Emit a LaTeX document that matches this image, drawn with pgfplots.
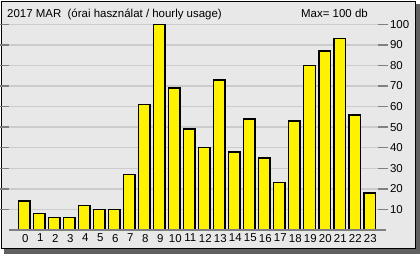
\documentclass[border=0pt]{standalone}
\usepackage{pgfplots}
\pgfplotsset{compat=1.18}
\usepackage{fontspec}
\setmainfont{Liberation Sans}
\definecolor{bgc}{RGB}{232,232,232}
\definecolor{gridc}{RGB}{204,204,204}
\definecolor{shadowc}{RGB}{96,96,96}
\definecolor{tickc}{RGB}{128,128,128}
\begin{document}
\fontsize{11.5}{13}\selectfont
\begin{tikzpicture}[x=1bp,y=1bp]
\useasboundingbox (0,0) rectangle (420,254);
\fill[white] (0,0) rectangle (420,254);
\fill[shadowc] (4,0) rectangle (420,5);
\fill[shadowc] (416,0) rectangle (420,250);
\fill[bgc] (1,5) rectangle (416,253);
\draw[black, line width=1.2bp] (1.6,5.6) rectangle (415.4,252.4);
\node[anchor=base west, inner sep=0pt] at (7,237) {2017 MAR\ \ (órai használat / hourly usage)};
\node[anchor=base west, inner sep=0pt] at (301,237) {Max= 100 db};
\begin{axis}[
  at={(9bp,24bp)}, anchor=south west,
  scale only axis, width=369bp, height=205.7bp,
  xmin=-1.033, xmax=23.567, ymin=0, ymax=100,
  clip=false,
  axis line style={draw=none},
  ymajorgrids, grid style={gridc, line width=1.3bp},
  ytick={10,20,...,100},
  yticklabel pos=right,
  y tick style={tickc, line width=1.3bp},
  ytick align=outside, xtick align=inside, major tick length=10bp,
  xtick={0,...,23}, x tick style={draw=none},
  /pgf/number format/assume math mode=true,
  ticklabel style={font=\fontsize{11.5}{13}\selectfont, text=black},
  yticklabel style={anchor=west, xshift=-2bp},
  xticklabel style={xshift=0.8bp},
]
\addplot[ybar, bar width=11.5bp, fill=yellow, draw=black, line width=1.5bp] coordinates {
(0,14) (1,8) (2,6) (3,6) (4,12) (5,10) (6,10) (7,27) (8,61) (9,100) (10,69) (11,49)
(12,40) (13,73) (14,38) (15,54) (16,35) (17,23) (18,53) (19,80) (20,87) (21,93) (22,56) (23,18)
};
\draw[tickc, line width=1.5bp] (axis cs:-1.033,0) -- ([xshift=8bp]axis cs:23.567,0);
\end{axis}
\end{tikzpicture}
\end{document}
